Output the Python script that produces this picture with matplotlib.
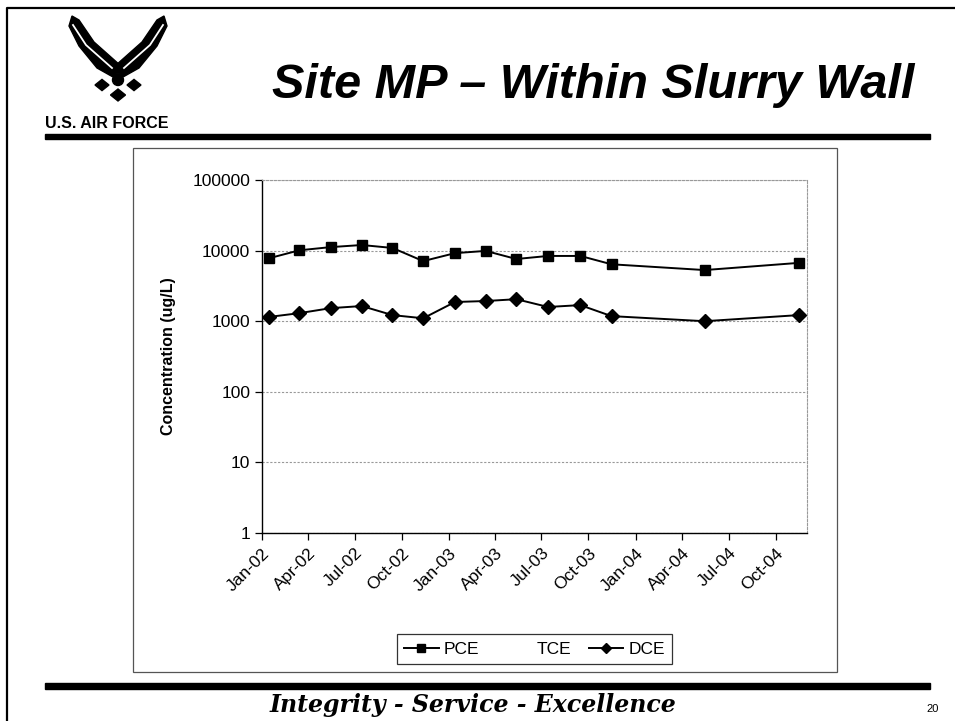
import matplotlib
matplotlib.use('Agg')

import datetime as dt
import matplotlib.pyplot as plt
import matplotlib.dates as mdates
from matplotlib.patches import Polygon, Circle, Rectangle

plt.rcParams['font.family'] = ['Liberation Sans', 'DejaVu Sans']

# -------- data ----------------------------
dates = [dt.date(2002, 1, 15), dt.date(2002, 3, 15), dt.date(2002, 5, 15),
         dt.date(2002, 7, 15), dt.date(2002, 9, 13), dt.date(2002, 11, 12),
         dt.date(2003, 1, 13), dt.date(2003, 3, 14), dt.date(2003, 5, 13),
         dt.date(2003, 7, 14), dt.date(2003, 9, 15), dt.date(2003, 11, 15),
         dt.date(2004, 5, 15), dt.date(2004, 11, 15)]
pce = [7800, 10100, 11200, 12000, 10900, 7100, 9200, 9900, 7600, 8400, 8400, 6400, 5300, 6700]
dce = [1150, 1300, 1530, 1640, 1220, 1100, 1870, 1930, 2050, 1590, 1690, 1180, 1000, 1220]
tce = []  # listed in the legend but nothing drawn

title = "Site MP \u2013 Within Slurry Wall"
footer = "Integrity - Service - Excellence"
page_no = "20"

W, H = 955, 721

def fx(x):
    return x / W

def fy(y):
    return 1 - y / H

fig = plt.figure(figsize=(W / 100, H / 100), dpi=100)

# ---- slide background layer (pixel coordinates, y down) ----
bg = fig.add_axes([0, 0, 1, 1])
bg.set_xlim(0, W)
bg.set_ylim(H, 0)
bg.axis('off')

# slide border
bg.plot([7, 7, W], [H, 8, 8], color='black', lw=1.6)

# air force symbol (rough)
cx = 118
wing = [(72, 16), (79, 20), (94, 42), (121, 66), (119, 72), (113, 77),
        (97, 68), (79, 46), (69, 26)]
bg.add_patch(Polygon(wing, closed=True, color='black'))
bg.add_patch(Polygon([(2 * cx - x, y) for x, y in wing], closed=True, color='black'))
stripe_x = [73, 86, 112]
stripe_y = [25, 45, 68]
bg.plot(stripe_x, stripe_y, color='white', lw=1.3)
bg.plot([2 * cx - x for x in stripe_x], stripe_y, color='white', lw=1.3)
bg.add_patch(Circle((cx, 80), 5.5, color='black'))
for dx_, dy_, s in [(-16, 85, 7), (16, 85, 7), (0, 95, 7.5)]:
    x0 = cx + dx_
    bg.add_patch(Polygon([(x0 - s, dy_), (x0, dy_ - s * 0.8), (x0 + s, dy_), (x0, dy_ + s * 0.8)],
                         closed=True, color='black'))

bg.text(45, 123, "U.S. AIR FORCE", fontsize=11.5, fontweight='bold', va='center', ha='left')

bg.text(593, 98, title, fontsize=35, fontweight='bold', style='italic',
        ha='center', va='baseline',
        family=['Liberation Sans Narrow', 'Liberation Sans', 'DejaVu Sans'])

# header / footer rules
bg.add_patch(Rectangle((45, 134), 885, 5, color='black'))
bg.add_patch(Rectangle((45, 683), 885, 6, color='black'))

bg.text(473, 712, footer, fontsize=17, fontweight='bold', style='italic',
        ha='center', va='baseline', family=['DejaVu Serif'])
bg.text(933, 712, page_no, fontsize=8, ha='center', va='baseline')

# chart frame
bg.add_patch(Rectangle((133, 148), 704, 524, fill=False, edgecolor='#555555', lw=0.9))

# ---- chart ----
ax = fig.add_axes([fx(262), fy(533), fx(807) - fx(262), fy(180) - fy(533)])
ax.plot(dates, pce, color='black', lw=1.4, marker='s', markersize=6.5, label='PCE')
ax.plot(tce, tce, linestyle='none', marker='none', label='TCE')
ax.plot(dates, dce, color='black', lw=1.4, marker='D', markersize=7, label='DCE')

ax.set_yscale('log')
ax.set_ylim(1, 100000)
ax.set_yticks([1, 10, 100, 1000, 10000, 100000])
ax.set_yticklabels(['1', '10', '100', '1000', '10000', '100000'])
ax.minorticks_off()
ax.yaxis.grid(True, color='#999999', lw=0.8, linestyle=(0, (2, 1.5)))
ax.set_axisbelow(True)

ax.set_xlim(dt.date(2002, 1, 1), dt.date(2004, 12, 1))
ax.xaxis.set_major_locator(mdates.MonthLocator(bymonth=[1, 4, 7, 10]))
ax.xaxis.set_major_formatter(mdates.DateFormatter('%b-%y'))
plt.setp(ax.get_xticklabels(), rotation=45, ha='right', rotation_mode='anchor')

ax.tick_params(axis='both', labelsize=12.5, length=5, width=0.9, direction='out')
ax.tick_params(axis='x', pad=4)
ax.set_ylabel("Concentration (ug/L)", fontsize=11.5, fontweight='bold', labelpad=12)

for side in ['top', 'right']:
    ax.spines[side].set_color('#999999')
    ax.spines[side].set_linestyle((0, (2, 1.5)))
    ax.spines[side].set_linewidth(0.8)
for side in ['left', 'bottom']:
    ax.spines[side].set_color('black')
    ax.spines[side].set_linewidth(1.0)

leg = ax.legend(ncol=3, loc='center', bbox_to_anchor=(fx(534.5), fy(649)),
                bbox_transform=fig.transFigure, fontsize=12.5, frameon=True,
                fancybox=False, edgecolor='black', handlelength=2.0,
                columnspacing=1.0, handletextpad=0.3, borderpad=0.4,
                markerscale=0.8)
leg.get_frame().set_linewidth(0.9)

fig.savefig('out.png', dpi=100)
